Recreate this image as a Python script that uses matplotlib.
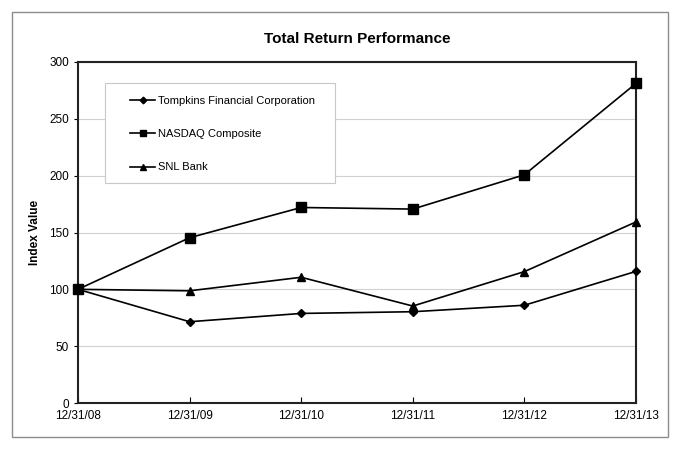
import matplotlib
matplotlib.use("Agg")
import matplotlib.pyplot as plt
from matplotlib.patches import Rectangle

dates = ["12/31/08", "12/31/09", "12/31/10", "12/31/11", "12/31/12", "12/31/13"]
tompkins = [100, 71.5, 78.8, 80.3, 86, 115.8]
nasdaq = [100, 145.4, 172, 170.6, 200.8, 281.2]
snl_bank = [100, 98.7, 110.6, 85.3, 115.6, 159.3]

plt.rcParams["font.family"] = ["Liberation Sans", "DejaVu Sans"]

fig = plt.figure(figsize=(6.8, 4.53), dpi=100)
ax = fig.add_axes([78 / 680, 50 / 453, 558 / 680, 341 / 453])

# grey frame around the whole chart
fig.patches.append(Rectangle((12 / 680, 16 / 453), 656 / 680, 425 / 453,
                             transform=fig.transFigure, fill=False,
                             edgecolor="#8c8c8c", linewidth=1.0))

x = list(range(len(dates)))
ax.plot(x, tompkins, color="black", lw=1.2, marker="D", markersize=4.5,
        label="Tompkins Financial Corporation", clip_on=False, zorder=3)
ax.plot(x, nasdaq, color="black", lw=1.2, marker="s", markersize=6.5,
        label="NASDAQ Composite", clip_on=False, zorder=3)
ax.plot(x, snl_bank, color="black", lw=1.2, marker="^", markersize=6,
        label="SNL Bank", clip_on=False, zorder=3)

ax.set_xlim(0, len(dates) - 1)
ax.set_ylim(0, 300)
ax.set_yticks(range(0, 301, 50))
ax.set_xticks(x)
ax.set_xticklabels(dates)
ax.tick_params(axis="x", direction="in", length=4, labelsize=8.5, pad=5)
ax.tick_params(axis="y", direction="out", length=3, labelsize=8.5)
ax.grid(axis="y", color="#d0d0d0", lw=0.8)
ax.set_axisbelow(True)
for s in ax.spines.values():
    s.set_color("#222222")
    s.set_linewidth(1.5)

ax.set_title("Total Return Performance", fontsize=11, fontweight="bold", pad=14)
ax.set_ylabel("Index Value", fontsize=8.5, fontweight="bold", labelpad=6)

# legend box
ax.add_patch(Rectangle((0.048, 0.645), 0.412, 0.293, transform=ax.transAxes,
                       facecolor="white", edgecolor="#c8c8c8", lw=0.8,
                       zorder=4))
leg = ax.legend(loc="upper left", bbox_to_anchor=(0.093, 0.901), fontsize=8,
                frameon=False, labelspacing=2.1, handlelength=2.3,
                borderpad=0, borderaxespad=0, handletextpad=0.25,
                markerscale=0.75)
leg.set_zorder(5)

fig.savefig("out.png", dpi=100)
